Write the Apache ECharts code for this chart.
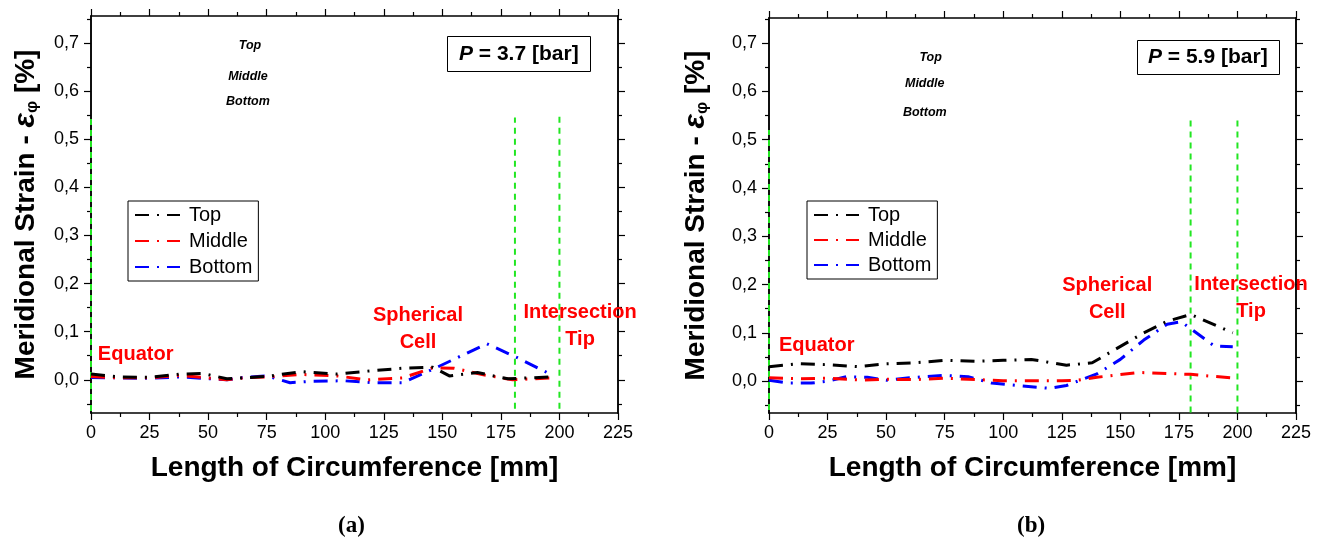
<!DOCTYPE html>
<html>
<head>
<meta charset="utf-8">
<script src="https://cdn.jsdelivr.net/npm/echarts@6/dist/echarts.min.js"></script>
<style>html,body{margin:0;padding:0;background:#fff}#c{width:1328px;height:544px}</style>
</head>
<body>
<div id="c"></div>
<script>
// ---------- data ----------
const xTicks = [0, 25, 50, 75, 100, 125, 150, 175, 200, 225];
const yMajor = [0, 0.1, 0.2, 0.3, 0.4, 0.5, 0.6, 0.7];
const yMinor = [-0.05, 0.05, 0.15, 0.25, 0.35, 0.45, 0.55, 0.65, 0.75];
const seriesNames = ['Top', 'Middle', 'Bottom'];

// (a) P = 3.7 bar
const aTopX = [0, 12, 25, 38, 48, 58, 65, 75, 90, 105, 118, 133, 146, 153, 165, 178, 196];
const aTopY = [0.012, 0.006, 0.005, 0.012, 0.013, 0.002, 0.004, 0.007, 0.017, 0.012, 0.018, 0.024, 0.026, 0.008, 0.015, 0.002, 0.006];
const aMidX = [0, 12, 25, 38, 48, 58, 65, 75, 90, 105, 118, 133, 146, 155, 168, 180, 197];
const aMidY = [0.007, 0.004, 0.004, 0.009, 0.005, 0.0, 0.004, 0.006, 0.011, 0.008, 0.0, 0.004, 0.025, 0.024, 0.010, 0.0, 0.004];
const aBotX = [0, 12, 25, 38, 48, 58, 65, 75, 85, 95, 108, 120, 133, 146, 169, 182, 196];
const aBotY = [0.005, 0.004, 0.003, 0.006, 0.003, 0.0, 0.005, 0.008, -0.006, -0.003, -0.002, -0.006, -0.006, 0.022, 0.075, 0.046, 0.012];

// (b) P = 5.9 bar
const bTopX = [0, 12, 25, 38, 50, 62, 75, 88, 100, 112, 127, 138, 160, 170, 180, 198];
const bTopY = [0.030, 0.036, 0.034, 0.030, 0.036, 0.038, 0.043, 0.041, 0.043, 0.045, 0.033, 0.038, 0.100, 0.124, 0.138, 0.100];
const bMidX = [0, 12, 25, 40, 50, 62, 75, 90, 100, 112, 125, 132, 140, 158, 180, 199];
const bMidY = [0.007, 0.005, 0.006, 0.002, 0.004, 0.003, 0.006, 0.003, 0.001, 0.001, 0.001, 0.002, 0.008, 0.018, 0.014, 0.006];
const bBotX = [0, 8, 18, 25, 33, 42, 50, 60, 75, 85, 95, 108, 120, 127, 140, 150, 160, 170, 176, 190, 198];
const bBotY = [0.002, -0.004, -0.004, 0.0, 0.009, 0.008, 0.002, 0.007, 0.012, 0.009, -0.004, -0.010, -0.015, -0.009, 0.015, 0.045, 0.085, 0.118, 0.123, 0.073, 0.071];

// green guide lines (x position, top end, bottom end)
const aGuideX = [0, 181, 200];
const aGuideTop = [0.545, 0.545, 0.55];
const aGuideBot = [-0.065, -0.06, -0.06];
const bGuideX = [0, 180, 200];
const bGuideTop = [0.52, 0.54, 0.54];
const bGuideBot = [-0.06, -0.065, -0.065];

// annotations
const aRegionText = ['Equator', 'Spherical\nCell', 'Intersection\nTip'];
const aRegionX = [2.5, 139.6, 208.8];
const aRegionY = [0.052, 0.106, 0.111];
const bRegionText = ['Equator', 'Spherical\nCell', 'Intersection\nTip'];
const bRegionX = [3.8, 144.4, 205.8];
const bRegionY = [0.0745, 0.17, 0.173];
const aSmallX = [67.9, 67, 67];
const aSmallY = [0.694, 0.63, 0.578];
const bSmallX = [69, 66.5, 66.5];
const bSmallY = [0.671, 0.617, 0.557];
const pressures = ['3.7', '5.9'];

// ---------- chart ----------
const FONT = 'Liberation Sans, Arial, sans-serif';
const zip = (xs, ys) => xs.map((x, i) => [x, ys[i]]);
const yRanges = [[-0.069, 0.756], [-0.066, 0.752]];
const fmtY = v => v.toFixed(1).replace('.', ',');
const lineColors = ['#000000', '#ff0000', '#0000ff'];
const dashDot = [14, 8, 2, 8];

const grids = [
  { left: 91, top: 16, width: 527, height: 397 },
  { left: 769, top: 18, width: 527, height: 395 }
];

const xAxes = [], yAxes = [];
grids.forEach((g, gi) => {
  const base = {
    type: 'value', gridIndex: gi, min: 0, max: 225, interval: 25,
    axisLine: { show: true, onZero: false, lineStyle: { color: '#000', width: 1.5 } },
    axisTick: { show: true, inside: false, length: 7, lineStyle: { color: '#000', width: 1.2 } },
    minorTick: { show: true, splitNumber: 2, length: 4, lineStyle: { color: '#000', width: 1.2 } },
    splitLine: { show: false }, minorSplitLine: { show: false }
  };
  xAxes.push(Object.assign({}, base, {
    position: 'bottom',
    axisLabel: { show: true, fontSize: 18, color: '#000', fontFamily: FONT, margin: 11 },
    name: 'Length of Circumference [mm]', nameLocation: 'middle', nameGap: 41,
    nameTextStyle: { fontSize: 28, fontWeight: 'bold', color: '#000', fontFamily: FONT }
  }));
  xAxes.push(Object.assign({}, base, { position: 'top', axisLabel: { show: false } }));

  const ybase = {
    type: 'value', gridIndex: gi, min: yRanges[gi][0], max: yRanges[gi][1],
    splitLine: { show: false },
    axisLine: { show: true, onZero: false, lineStyle: { color: '#000', width: 1.5 } }
  };
  yAxes.push(Object.assign({}, ybase, {
    position: 'left',
    axisTick: { show: true, inside: false, length: 7, customValues: yMajor, lineStyle: { color: '#000', width: 1.2 } },
    axisLabel: { show: true, customValues: yMajor, formatter: fmtY, fontSize: 18, color: '#000', fontFamily: FONT, margin: 12 },
    name: '{a|Meridional Strain - }{e|ε}{s|φ}{a| [%]}', nameLocation: 'middle', nameGap: gi === 0 ? 50 : 58,
    nameTextStyle: {
      fontFamily: FONT, color: '#000',
      rich: {
        a: { fontSize: 28, fontWeight: 'bold', fontFamily: FONT, color: '#000' },
        e: { fontSize: 30, fontWeight: 'bold', fontStyle: 'italic', fontFamily: FONT, color: '#000' },
        s: { fontSize: 17, fontWeight: 'bold', fontFamily: FONT, color: '#000', verticalAlign: 'bottom', padding: [12, 0, 0, 0] }
      }
    }
  }));
  yAxes.push(Object.assign({}, ybase, {
    position: 'left',
    axisTick: { show: true, inside: false, length: 4, customValues: yMinor, lineStyle: { color: '#000', width: 1.2 } },
    axisLabel: { show: false }
  }));
  yAxes.push(Object.assign({}, ybase, {
    position: 'right',
    axisTick: { show: true, inside: false, length: 7, customValues: yMajor, lineStyle: { color: '#000', width: 1.2 } },
    axisLabel: { show: false }
  }));
  yAxes.push(Object.assign({}, ybase, {
    position: 'right',
    axisTick: { show: true, inside: false, length: 4, customValues: yMinor, lineStyle: { color: '#000', width: 1.2 } },
    axisLabel: { show: false }
  }));
});

const panels = [
  { xs: [aTopX, aMidX, aBotX], ys: [aTopY, aMidY, aBotY], gx: aGuideX, gt: aGuideTop, gb: aGuideBot,
    rt: aRegionText, rx: aRegionX, ry: aRegionY, sx: aSmallX, sy: aSmallY },
  { xs: [bTopX, bMidX, bBotX], ys: [bTopY, bMidY, bBotY], gx: bGuideX, gt: bGuideTop, gb: bGuideBot,
    rt: bRegionText, rx: bRegionX, ry: bRegionY, sx: bSmallX, sy: bSmallY }
];

const series = [];
panels.forEach((p, pi) => {
  const xi = pi * 2, yi = pi * 4;
  p.gx.forEach((gx, k) => {
    series.push({
      type: 'line', name: 'guide' + pi + k, xAxisIndex: xi, yAxisIndex: yi, silent: true,
      data: [[gx, p.gb[k]], [gx, p.gt[k]]], showSymbol: false, symbol: 'none', z: 1,
      lineStyle: { color: '#22e622', width: 2, type: [6, 5] }
    });
  });
  const mp = [];
  p.rt.forEach((t, k) => {
    mp.push({
      coord: [p.rx[k], p.ry[k]], symbol: 'circle', symbolSize: 2,
      itemStyle: { color: 'rgba(255,255,255,0)', borderWidth: 0 },
      label: { show: true, position: k === 0 ? 'right' : 'inside', distance: 0, formatter: t, color: '#ff0000',
        fontWeight: 'bold', fontSize: 20, fontFamily: FONT, lineHeight: 27, align: k === 0 ? 'left' : 'center',
        verticalAlign: 'middle' }
    });
  });
  seriesNames.forEach((t, k) => {
    mp.push({
      coord: [p.sx[k], p.sy[k]], symbol: 'circle', symbolSize: 2,
      itemStyle: { color: 'rgba(255,255,255,0)', borderWidth: 0 },
      label: { show: true, position: 'inside', formatter: t, color: '#000', fontWeight: 'bold', fontStyle: 'italic',
        fontSize: 12.5, fontFamily: FONT, align: 'center', verticalAlign: 'middle' }
    });
  });
  seriesNames.forEach((nm, k) => {
    const s = {
      type: 'line', name: nm, xAxisIndex: xi, yAxisIndex: yi,
      data: zip(p.xs[k], p.ys[k]), showSymbol: false, symbol: 'none', z: 3 + (2 - k),
      lineStyle: { color: lineColors[k], width: 3, type: dashDot },
      itemStyle: { color: lineColors[k] }
    };
    if (k === 0) s.markPoint = { silent: true, data: mp, animation: false };
    series.push(s);
  });
});

const legendBase = {
  orient: 'vertical', data: seriesNames, itemWidth: 45, itemHeight: 12,
  borderColor: '#000', borderWidth: 1, borderRadius: 0, backgroundColor: '#fff',
  itemStyle: { opacity: 0 },
  textStyle: { fontSize: 20, color: '#000', fontFamily: FONT, padding: [0, 0, 0, 4] },
  selectedMode: false
};

const titleText = (p) => ({
  text: '{i|P} = ' + p + ' [bar]',
  textStyle: { fontSize: 21, fontWeight: 'bold', color: '#000', fontFamily: FONT,
    rich: { i: { fontSize: 21, fontWeight: 'bold', fontStyle: 'italic', fontFamily: FONT, color: '#000' } } }
});

const option = {
  animation: false,
  backgroundColor: '#fff',
  grid: grids,
  xAxis: xAxes,
  yAxis: yAxes,
  legend: [
    Object.assign({}, legendBase, { left: 128, top: 201, itemGap: 6, padding: [4, 6, 4, 6] }),
    Object.assign({}, legendBase, { left: 807, top: 201, itemGap: 5, padding: [4, 6, 4, 6] })
  ],
  title: [
    Object.assign(titleText(pressures[0]), { left: 447, top: 36, borderColor: '#000', borderWidth: 1, padding: [8, 12, 7, 12] }),
    Object.assign(titleText(pressures[1]), { left: 1137, top: 40, borderColor: '#000', borderWidth: 1, padding: [7, 12, 7, 11] })
  ],
  graphic: [
    { type: 'text', left: 338, top: 515, style: { text: '(a)', font: 'bold 23px "Liberation Serif", "Times New Roman", serif', fill: '#000' } },
    { type: 'text', left: 1017, top: 515, style: { text: '(b)', font: 'bold 23px "Liberation Serif", "Times New Roman", serif', fill: '#000' } }
  ],
  series: series
};

const chart = echarts.init(document.getElementById('c'), null, { renderer: 'canvas' });
chart.setOption(option);
</script>
</body>
</html>
